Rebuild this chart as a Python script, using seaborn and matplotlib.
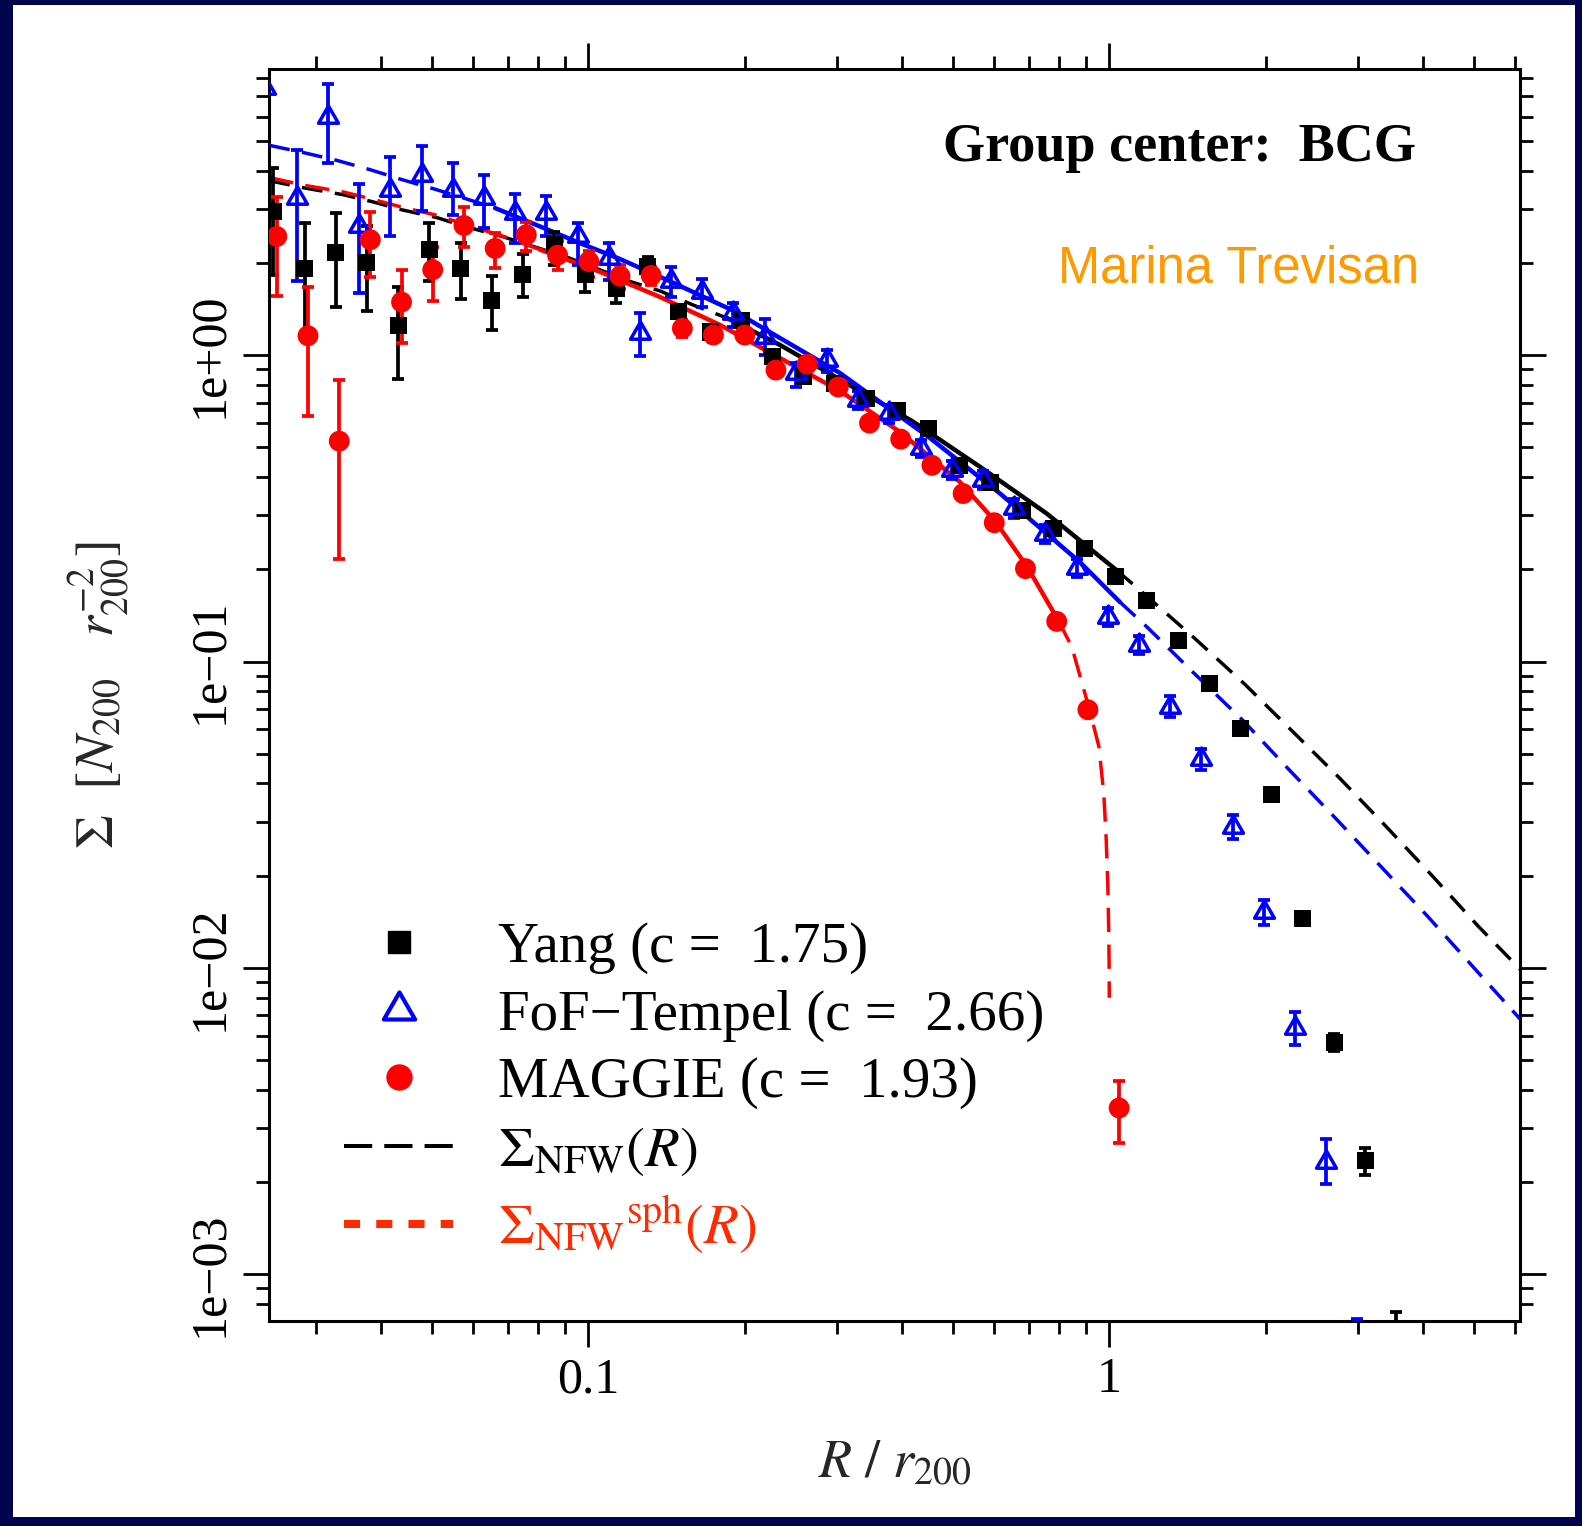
import numpy as np
import matplotlib
matplotlib.use("Agg")
import matplotlib.pyplot as plt
from matplotlib.lines import Line2D
from matplotlib.patches import Rectangle
from matplotlib.path import Path
from matplotlib.ticker import NullFormatter
import seaborn as sns

# ---------------- stacked surface-density profiles (R / r200) ----------------
yang_r = [0.02485, 0.02853, 0.03275, 0.03758, 0.04314, 0.04951, 0.05684, 0.06524, 0.07487, 0.08597,
          0.09867, 0.1132, 0.1300, 0.1492, 0.1713, 0.1966, 0.2257, 0.2591, 0.2973, 0.3413,
          0.3917, 0.4497, 0.5162, 0.5924, 0.6801, 0.7806, 0.8960, 1.028, 1.180, 1.355,
          1.555, 1.785, 2.049, 2.352, 2.700, 3.099, 3.557]
yang_sigma = [2.94, 1.92, 2.17, 2.00, 1.25, 2.21, 1.92, 1.51, 1.84, 2.29,
              1.83, 1.65, 1.94, 1.39, 1.19, 1.30, 0.988, 0.850, 0.809, 0.723,
              0.662, 0.576, 0.437, 0.383, 0.312, 0.272, 0.234, 0.189, 0.158, 0.117,
              0.0846, 0.0603, 0.0369, 0.01455, 0.00573, 0.002347, 0.00055]
yang_lo = [1.83, 1.14, 1.44, 1.39, 0.835, 1.74, 1.53, 1.21, 1.55, 1.97,
           1.61, 1.48, 1.80, 1.32, 1.14, 1.25, 0.95, 0.82, 0.78, 0.70,
           0.64, 0.555, 0.423, 0.370, 0.302, 0.263, 0.226, 0.183, 0.153, 0.113,
           0.0818, 0.0583, 0.0356, 0.01395, 0.00536, 0.00211, 0.00039]
yang_hi = [4.08, 2.70, 2.91, 2.63, 1.67, 2.70, 2.32, 1.81, 2.14, 2.53,
           2.06, 1.83, 2.09, 1.45, 1.25, 1.35, 1.03, 0.88, 0.84, 0.75,
           0.685, 0.595, 0.452, 0.396, 0.322, 0.281, 0.242, 0.195, 0.163, 0.121,
           0.0875, 0.0624, 0.0382, 0.01515, 0.00607, 0.00259, 0.000753]

fof_r = [0.02400, 0.02756, 0.03164, 0.03631, 0.04169, 0.04785, 0.05492, 0.06304, 0.07234, 0.08305,
         0.09533, 0.1094, 0.1256, 0.1441, 0.1655, 0.1899, 0.2181, 0.2503, 0.2873, 0.3297,
         0.3784, 0.4344, 0.4986, 0.5723, 0.6568, 0.7540, 0.8655, 0.9935, 1.140, 1.309,
         1.502, 1.725, 1.980, 2.272, 2.608, 2.994]
fof_sigma = [7.46, 3.25, 6.01, 2.63, 3.46, 3.88, 3.46, 3.25, 2.91, 2.91,
             2.44, 2.07, 1.178, 1.74, 1.61, 1.37, 1.15, 0.872, 0.964, 0.713,
             0.645, 0.496, 0.421, 0.391, 0.316, 0.260, 0.202, 0.1397, 0.1129, 0.0713,
             0.0479, 0.0288, 0.0152, 0.00637, 0.00233, 0.00045]
fof_lo = [4.85, 1.74, 4.24, 1.60, 2.44, 2.96, 2.87, 2.60, 2.32, 2.45,
          1.97, 1.76, 0.993, 1.55, 1.44, 1.24, 1.00, 0.788, 0.88, 0.665,
          0.60, 0.465, 0.395, 0.365, 0.295, 0.243, 0.189, 0.131, 0.106, 0.0660,
          0.0443, 0.0263, 0.0138, 0.00561, 0.00197, 0.00030]
fof_hi = [9.3, 4.68, 7.69, 3.62, 4.42, 4.80, 4.24, 3.88, 3.35, 3.31,
          2.70, 2.32, 1.375, 1.94, 1.77, 1.48, 1.31, 0.940, 1.04, 0.765,
          0.69, 0.53, 0.45, 0.42, 0.338, 0.278, 0.216, 0.149, 0.121, 0.0770,
          0.0518, 0.0315, 0.0167, 0.00719, 0.00276, 0.000715]

mag_r = [0.02523, 0.02896, 0.03325, 0.03815, 0.04379, 0.05026, 0.05770, 0.06623, 0.07600, 0.08726,
         0.1002, 0.1150, 0.1320, 0.1515, 0.1738, 0.1996, 0.2291, 0.2630, 0.3018, 0.3464,
         0.3977, 0.4564, 0.5240, 0.6013, 0.6902, 0.7924, 0.9095, 1.044]
mag_sigma = [2.44, 1.157, 0.524, 2.38, 1.49, 1.90, 2.65, 2.23, 2.47, 2.12,
             2.02, 1.81, 1.82, 1.223, 1.163, 1.163, 0.894, 0.935, 0.787, 0.600,
             0.532, 0.437, 0.3534, 0.2838, 0.2010, 0.1352, 0.0696, 0.00349]
mag_lo = [1.56, 0.632, 0.2168, 1.80, 1.098, 1.50, 2.25, 1.92, 2.18, 1.90,
          1.80, 1.65, 1.70, 1.15, 1.10, 1.11, 0.85, 0.89, 0.755, 0.575,
          0.51, 0.42, 0.339, 0.272, 0.193, 0.129, 0.0665, 0.00269]
mag_hi = [3.29, 1.67, 0.829, 2.94, 1.89, 2.26, 3.05, 2.51, 2.73, 2.35,
          2.18, 1.97, 1.94, 1.30, 1.23, 1.22, 0.94, 0.98, 0.82, 0.625,
          0.555, 0.455, 0.368, 0.296, 0.209, 0.141, 0.0728, 0.00426]

# ---------------- NFW model curves ----------------
nfw_yang_r = [0.02441, 0.02859, 0.03382, 0.03844, 0.04389, 0.05124, 0.05798, 0.06832, 0.07661, 0.09021,
              0.1202, 0.1373, 0.1588, 0.1845, 0.2333, 0.3132, 0.4204, 0.5646, 0.7583, 1.033,
              1.145, 1.449, 1.821, 2.255, 2.772, 3.407, 4.181, 5.101, 6.142]
nfw_yang_sigma = [3.71, 3.51, 3.34, 3.17, 2.98, 2.81, 2.63, 2.44, 2.29, 2.10,
                  1.74, 1.62, 1.458, 1.322, 1.079, 0.809, 0.606, 0.432, 0.304, 0.1985,
                  0.1708, 0.1202, 0.0842, 0.0588, 0.0415, 0.0288, 0.01985, 0.0137, 0.0099]

nfw_fof_r = [0.02441, 0.02859, 0.03293, 0.03811, 0.04389, 0.05078, 0.05851, 0.06621, 0.08076, 0.09640,
             0.1150, 0.1447, 0.1904, 0.2333, 0.3041, 0.4528, 0.6169, 0.8786, 1.048, 1.181,
             1.447, 1.805, 2.203, 2.712, 3.308, 4.072, 4.969, 6.142]
nfw_fof_sigma = [4.84, 4.57, 4.32, 4.03, 3.74, 3.48, 3.23, 3.02, 2.63, 2.32,
                 2.06, 1.73, 1.393, 1.137, 0.874, 0.536, 0.3534, 0.2108, 0.1563, 0.1296,
                 0.0923, 0.0642, 0.0447, 0.0309, 0.02157, 0.01480, 0.01016, 0.00681]

nfw_sph_r = [0.02441, 0.02859, 0.03382, 0.03844, 0.04389, 0.05124, 0.05798, 0.06832, 0.08076, 0.1053,
             0.1373, 0.1790, 0.2333, 0.3041, 0.3965, 0.5169, 0.6034, 0.6941, 0.7981, 0.8470,
             0.9156, 0.955, 0.976, 0.986, 0.993, 0.997, 0.9988, 0.9996]
nfw_sph_sigma = [3.80, 3.58, 3.41, 3.23, 3.04, 2.86, 2.67, 2.45, 2.21, 1.87,
                 1.548, 1.254, 0.978, 0.764, 0.561, 0.3853, 0.2874, 0.2049, 0.1361, 0.1117,
                 0.0698, 0.0527, 0.0367, 0.02634, 0.01878, 0.01343, 0.01030, 0.00799]

# radial range of each fit (solid part of the model curve)
fit_yang = (0.1845, 1.033)
fit_fof = (0.06621, 1.048)
fit_sph = (0.08076, 0.7981)

concentration = {"Yang": 1.75, "FoF\u2212Tempel": 2.66, "MAGGIE": 1.93}

x_major = [0.1, 1]
x_major_labels = ["0.1", "1"]
x_minor = [0.03, 0.04, 0.05, 0.06, 0.07, 0.08, 0.09,
           0.2, 0.3, 0.4, 0.5, 0.6, 0.7, 0.8, 0.9,
           2, 3, 4, 5, 6]
y_major = [1e-3, 1e-2, 1e-1, 1]
y_major_labels = ["1e\u221203", "1e\u221202", "1e\u221201", "1e+00"]

# ---------------- style ----------------
NAVY = "#00044C"
RED = "#FF0000"
BLUE = "#0000FF"
SPH = "#FF2A00"

sns.set_style("ticks")
plt.rcParams["font.family"] = ["Liberation Serif", "DejaVu Serif"]
plt.rcParams["mathtext.fontset"] = "stix"
plt.rcParams["axes.edgecolor"] = "black"
plt.rcParams["axes.linewidth"] = 2.2
plt.rcParams["xtick.color"] = "black"
plt.rcParams["ytick.color"] = "black"
plt.rcParams["text.color"] = "black"

fig = plt.figure(figsize=(15.82, 15.26), dpi=100, facecolor=NAVY)
fig.add_artist(Rectangle((0.0084, 0.0059), 0.98736, 0.99083, transform=fig.transFigure,
                         facecolor="white", edgecolor="none", zorder=-1))
ax = fig.add_axes([0.17023, 0.13434, 0.79058, 0.82025])
ax.set_facecolor("white")
ax.set_xscale("log")
ax.set_yscale("log")


def draw_model(r, s, fit, color, lw_solid, lw_dash, dash):
    r = np.asarray(r)
    s = np.asarray(s)
    lo, hi = fit
    parts = [(r <= lo, (0, dash), lw_dash),
             ((r >= lo) & (r <= hi), "-", lw_solid),
             (r >= hi, (0, dash), lw_dash)]
    for mask, ls, lw in parts:
        sns.lineplot(x=r[mask], y=s[mask], ax=ax, color=color, linewidth=lw,
                     linestyle=ls, estimator=None, sort=False, zorder=2)


draw_model(nfw_yang_r, nfw_yang_sigma, fit_yang, "black", 3.2, 2.5, (6, 3.6))
draw_model(nfw_fof_r, nfw_fof_sigma, fit_fof, BLUE, 3.2, 2.5, (6, 3.6))
draw_model(nfw_sph_r, nfw_sph_sigma, fit_sph, RED, 3.2, 2.5, (7, 3.6))


def draw_errors(r, s, lo, hi, color):
    s = np.asarray(s)
    yerr = [s - np.asarray(lo), np.asarray(hi) - s]
    ax.errorbar(r, s, yerr=yerr, fmt="none", ecolor=color, elinewidth=2.7,
                capsize=4.6, capthick=2.7, zorder=3)


draw_errors(yang_r, yang_sigma, yang_lo, yang_hi, "black")
draw_errors(fof_r, fof_sigma, fof_lo, fof_hi, BLUE)
draw_errors(mag_r, mag_sigma, mag_lo, mag_hi, RED)

# open equilateral triangle, centred on its centroid
TRI = Path([(-1.0, -0.577), (1.0, -0.577), (0.0, 1.155), (-1.0, -0.577)],
           [Path.MOVETO, Path.LINETO, Path.LINETO, Path.CLOSEPOLY])

sns.scatterplot(x=yang_r, y=yang_sigma, ax=ax, marker="s", s=150, color="black",
                edgecolor="none", linewidth=0, zorder=4)
ax.plot(fof_r, fof_sigma, ls="none", marker=TRI, ms=16.5, mfc="none", mec=BLUE,
        mew=2.5, zorder=4)
sns.scatterplot(x=mag_r, y=mag_sigma, ax=ax, marker="o", s=225, color=RED,
                edgecolor="none", linewidth=0, zorder=4)

# ---------------- axes ----------------
ax.set_xticks(x_major)
ax.set_xticklabels(x_major_labels)
ax.set_xticks(x_minor, minor=True)
ax.xaxis.set_minor_formatter(NullFormatter())
ax.set_yticks(y_major)
ax.set_yticklabels(y_major_labels)
y_minor = [k * 10.0 ** d for d in range(-4, 1) for k in range(2, 10)]
ax.set_yticks(y_minor, minor=True)
ax.yaxis.set_minor_formatter(NullFormatter())
ax.set_xlim(0.02441, 6.14)
ax.set_ylim(7.04e-4, 8.57)

ax.tick_params(which="both", direction="out", top=True, right=True, width=2.0)
ax.tick_params(which="major", length=18.7)
ax.tick_params(which="minor", length=9.4)
ax.tick_params(axis="x", which="major", labelsize=36, pad=7)
ax.tick_params(axis="y", which="major", labelsize=36, pad=7, labelrotation=90)
for lab in ax.get_yticklabels():
    lab.set_va("center")
for sp in ax.spines.values():
    sp.set_visible(True)
    sp.set_color("black")
    sp.set_linewidth(2.2)

ax.set_xlabel(r"$R\ /\ r_{200}$", fontsize=39)
ax.xaxis.set_label_coords(0.5, -0.094)
ax.set_ylabel(r"$\Sigma\ \ [N_{200}\ \ \ r_{200}^{-2}]$", fontsize=39)
ax.yaxis.set_label_coords(-0.1106, 0.5)

ax.text(0.9172, 0.9264, "Group center:  BCG", transform=ax.transAxes, ha="right",
        va="baseline", fontsize=39, fontweight="bold")
ax.text(0.9197, 0.8297, "Marina Trevisan", transform=ax.transAxes, ha="right",
        va="baseline", fontsize=36.5, color="#FF9900",
        family=["Liberation Sans", "DejaVu Sans"])

# ---------------- legend ----------------
handles = [
    Line2D([], [], ls="none", marker="s", color="black", markersize=15.5),
    Line2D([], [], ls="none", marker=TRI, mfc="none", mec=BLUE, mew=3.0, markersize=26),
    Line2D([], [], ls="none", marker="o", color=RED, markersize=18),
    Line2D([], [], color="black", lw=2.9, linestyle=(0, (7, 3))),
    Line2D([], [], color=SPH, lw=5.8, linestyle=(0, (2, 2))),
]
labels = [f"{name} (c =  {c:.2f})" for name, c in concentration.items()]
labels += [r"$\Sigma_{\mathrm{NFW}}(R)$", r"$\Sigma_{\mathrm{NFW}}{}^{\mathrm{sph}}(R)$"]
leg = ax.legend(handles, labels, loc="upper left", bbox_to_anchor=(0.0597, 0.3187),
                frameon=False, fontsize=41, handlelength=1.92, handletextpad=0.78,
                labelspacing=0.27, borderpad=0, borderaxespad=0)
leg.get_texts()[4].set_color(SPH)

fig.savefig("out.png", dpi=100, facecolor=fig.get_facecolor())
